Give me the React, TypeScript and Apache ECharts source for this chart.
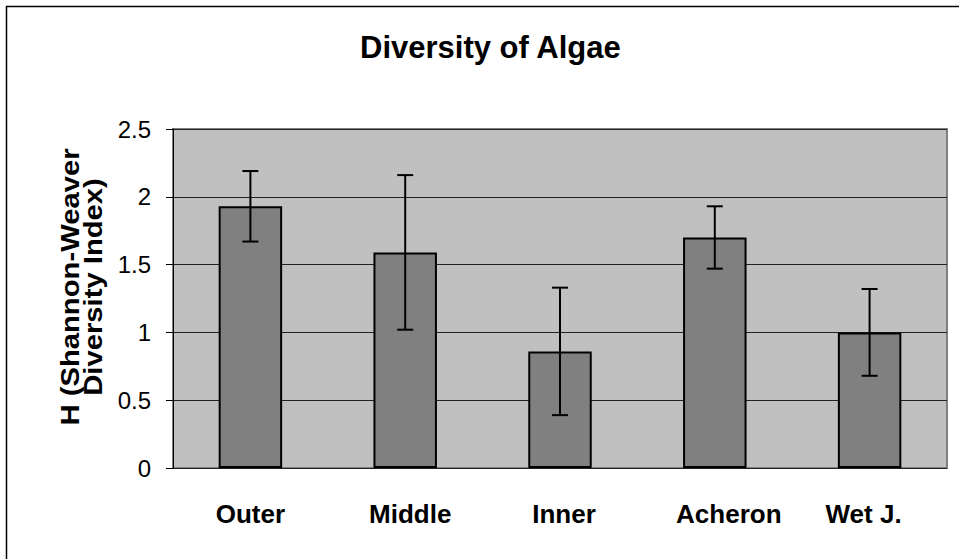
import React, { useEffect, useRef } from "react";
import * as echarts from "echarts";

const categories = ["Outer", "Middle", "Inner", "Acheron", "Wet J."];
const meanValues = [1.93, 1.59, 0.86, 1.7, 1.0];
const errorValues = [0.26, 0.57, 0.47, 0.23, 0.32];
const yTicks = { min: 0, max: 2.5, interval: 0.5 };
const yTitleLines = ["H (Shannon-Weaver", "Diversity Index)"];

// horizontal nudges of the category labels (px), styling only
const labelShift = [0, 5, 4, 14, -6];

const FONT = '"Liberation Sans", Arial, sans-serif';

export default function App() {
  const ref = useRef<HTMLDivElement>(null);
  useEffect(() => {
    if (!ref.current) return;
    const chart = echarts.init(ref.current, undefined, { renderer: "svg" });
    const errData = categories.map((_, i) => [
      i,
      meanValues[i] - errorValues[i],
      meanValues[i] + errorValues[i],
    ]);
    const rich: Record<string, any> = {};
    labelShift.forEach((s, i) => {
      rich["c" + i] = {
        fontFamily: FONT,
        fontSize: 26,
        fontWeight: "bold",
        color: "#000",
        padding: s >= 0 ? [0, 0, 0, 2 * s] : [0, -2 * s, 0, 0],
      };
    });
    const yTitleX = [70, 93];
    chart.setOption({
      animation: false,
      backgroundColor: "#ffffff",
      title: {
        text: "Diversity of Algae",
        left: 355,
        top: 27,
        textStyle: { fontFamily: FONT, fontSize: 31, fontWeight: "bold", color: "#000" },
      },
      graphic: [
        {
          type: "rect",
          shape: { x: 6.5, y: 6.5, width: 2000, height: 2000 },
          style: { fill: "none", stroke: "#000", lineWidth: 1.5 },
          silent: true,
        },
        ...yTitleLines.map((t, i) => ({
          type: "text",
          x: yTitleX[i],
          y: 287,
          rotation: Math.PI / 2,
          scaleX: 1.17,
          style: {
            text: t,
            fontFamily: FONT,
            fontSize: 25,
            fontWeight: "bold",
            fill: "#000",
            align: "center",
            verticalAlign: "middle",
          },
        })),
      ],
      grid: {
        left: 173,
        right: 12,
        top: 129,
        bottom: 91,
        show: true,
        backgroundColor: "#c0c0c0",
        borderColor: "#808080",
        borderWidth: 2,
      },
      xAxis: {
        type: "category",
        data: categories,
        axisLine: { show: false },
        axisTick: { show: false },
        axisLabel: {
          interval: 0,
          margin: 33,
          fontFamily: FONT,
          fontSize: 26,
          fontWeight: "bold",
          color: "#000",
          formatter: (v: string, i: number) => `{c${i}|${v}}`,
          rich,
        },
      },
      yAxis: {
        type: "value",
        min: yTicks.min,
        max: yTicks.max,
        interval: yTicks.interval,
        axisLine: { show: true, lineStyle: { color: "#000", width: 1 } },
        axisTick: { show: true, length: 7, lineStyle: { color: "#000", width: 1 } },
        axisLabel: { margin: 22, fontFamily: FONT, fontSize: 24, color: "#000" },
        splitLine: { show: true, lineStyle: { color: "#222", width: 1 } },
      },
      series: [
        {
          type: "bar",
          data: meanValues,
          barWidth: "41%",
          itemStyle: { color: "#808080", borderColor: "#000", borderWidth: 2 },
        },
        {
          type: "custom",
          data: errData,
          encode: { x: 0, y: [1, 2] },
          z: 10,
          renderItem: (params: any, api: any) => {
            const x = api.value(0);
            const lo = api.coord([x, api.value(1)]);
            const hi = api.coord([x, api.value(2)]);
            const hw = 8;
            const st = { stroke: "#000", lineWidth: 2 };
            return {
              type: "group",
              children: [
                { type: "line", shape: { x1: lo[0], y1: lo[1], x2: hi[0], y2: hi[1] }, style: st },
                { type: "line", shape: { x1: lo[0] - hw, y1: lo[1], x2: lo[0] + hw, y2: lo[1] }, style: st },
                { type: "line", shape: { x1: hi[0] - hw, y1: hi[1], x2: hi[0] + hw, y2: hi[1] }, style: st },
              ],
            };
          },
        },
      ],
    });
    return () => chart.dispose();
  }, []);
  return (
    <div
      ref={ref}
      style={{ position: "fixed", left: 0, top: 0, width: 959, height: 559 }}
    />
  );
}
